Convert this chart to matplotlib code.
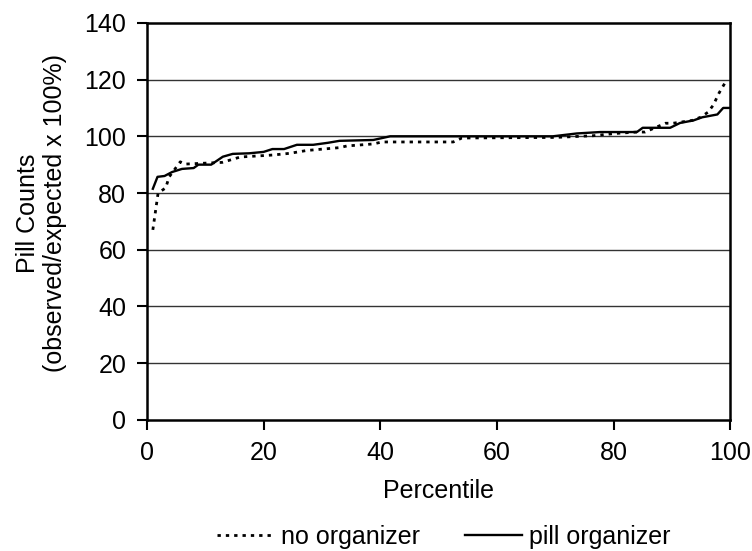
import matplotlib
matplotlib.use("Agg")
import matplotlib.pyplot as plt

# percentile (x) and pill counts (y)
pill_x = [1, 1.8, 3, 4.3, 6, 8, 8.8, 11, 13, 14.7, 17.5, 20, 21.5, 23.5, 25.7,
          28.5, 31, 33, 38.8, 41.7, 69.6, 73.7, 77.7, 84, 85, 89.7, 91.4, 93.7,
          95.2, 97.8, 98.8, 100]
pill_y = [81.5, 85.7, 86, 87.4, 88.5, 88.8, 90, 90, 92.8, 93.8, 94, 94.5, 95.5,
          95.5, 97, 97, 97.7, 98.4, 98.7, 100, 100, 101, 101.5, 101.5, 103, 103,
          104.7, 105.6, 106.7, 107.7, 110, 110]

none_x = [1, 1.9, 3.2, 3.8, 5.7, 6.5, 12.9, 16, 21.6, 24.5, 27.4, 33, 34.3,
          38.8, 40.3, 52.5, 54, 70, 76.5, 80.3, 84, 85.4, 88.9, 90.2, 93.5,
          94.9, 96.2, 97.1, 98.1, 99.1, 99.6]
none_y = [67, 80, 81.8, 85.7, 91, 90.2, 90.8, 92.7, 93.4, 94, 95, 96, 96.6,
          97.3, 98, 98, 99.4, 99.6, 100.2, 101, 101.5, 101.5, 104.6, 104.6,
          105.6, 106.7, 108.5, 111, 115.3, 118.8, 119.5]

x_ticks = [0, 20, 40, 60, 80, 100]
y_ticks = [0, 20, 40, 60, 80, 100, 120, 140]

plt.rcParams["font.family"] = ["Liberation Sans", "DejaVu Sans"]
plt.rcParams["font.size"] = 18

fig = plt.figure(figsize=(7.52, 5.51), dpi=100)
ax = fig.add_axes([0.1955, 0.238, 0.7755, 0.7205])

for y in y_ticks[1:-1]:
    ax.axhline(y, color="#333333", lw=1.0, zorder=1)

ax.plot(none_x, none_y, color="black", lw=2.0, linestyle=(0, (1.2, 1.8)),
        label="no organizer", zorder=3)
ax.plot(pill_x, pill_y, color="black", lw=1.7, label="pill organizer", zorder=3)

ax.set_xlim(0, 100)
ax.set_ylim(0, 140)
ax.set_xticks(x_ticks)
ax.set_yticks(y_ticks)
ax.tick_params(direction="out", length=7, width=1.5, pad=8)
for s in ax.spines.values():
    s.set_linewidth(1.8)

ax.set_xlabel("Percentile", labelpad=10)
ax.set_ylabel("Pill Counts\n(observed/expected x 100%)", linespacing=1.15)
ax.yaxis.set_label_coords(-0.137, 0.52)

fig.legend(loc="center", bbox_to_anchor=(0.59, 0.025), ncol=2, frameon=False,
           handlelength=2.3, columnspacing=1.8, handletextpad=0.25)

fig.savefig("out.png", dpi=100)
